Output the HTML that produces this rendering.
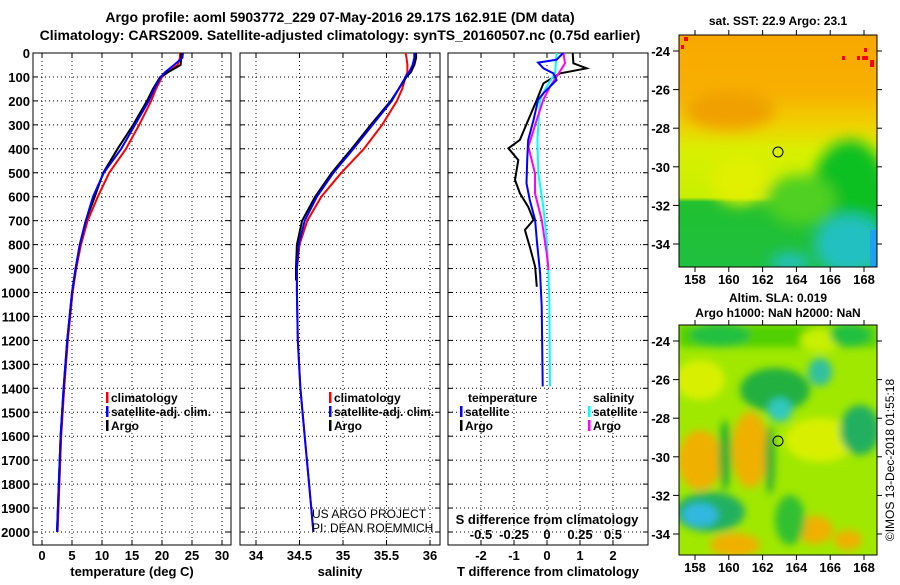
<!DOCTYPE html>
<html><head><meta charset="utf-8"><style>
body{margin:0;background:#fff}
svg text{font-family:"Liberation Sans",sans-serif;font-weight:bold;fill:#000}
</style></head><body>
<svg id="s" width="900" height="580" xmlns="http://www.w3.org/2000/svg">
<defs>
<filter id="bl" x="-20%" y="-20%" width="140%" height="140%"><feGaussianBlur stdDeviation="7"/></filter>
<filter id="bl2" x="-20%" y="-20%" width="140%" height="140%"><feGaussianBlur stdDeviation="4"/></filter>
<clipPath id="c1"><rect x="679" y="35" width="198" height="232"/></clipPath>
<clipPath id="c2"><rect x="679" y="325" width="198" height="230"/></clipPath>
<linearGradient id="g1" x1="0" y1="0" x2="0" y2="1">
<stop offset="0" stop-color="#f8a800"/><stop offset="0.25" stop-color="#f8b000"/><stop offset="0.38" stop-color="#f0d000"/><stop offset="0.5" stop-color="#d8f000"/><stop offset="0.7" stop-color="#c8f000"/><stop offset="0.72" stop-color="#20c030"/><stop offset="1" stop-color="#20c040"/></linearGradient>
</defs>
<text x="340" y="22" font-size="14" text-anchor="middle">Argo profile: aoml 5903772_229 07-May-2016 29.17S 162.91E (DM data)</text>
<text x="340" y="40" font-size="14" text-anchor="middle">Climatology: CARS2009. Satellite-adjusted climatology: synTS_20160507.nc (0.75d earlier)</text>
<g id="plots"></g>

<g clip-path="url(#c1)">
<rect x="679" y="35" width="198" height="232" fill="url(#g1)"/>
<g filter="url(#bl)">
<ellipse cx="730" cy="110" rx="45" ry="20" fill="#f0a000"/>
<ellipse cx="850" cy="200" rx="40" ry="60" fill="#10c020"/>
<ellipse cx="800" cy="200" rx="35" ry="25" fill="#50d020"/>
<ellipse cx="850" cy="245" rx="35" ry="30" fill="#20c0c0"/>
<ellipse cx="790" cy="262" rx="20" ry="8" fill="#20c0d0"/>
<ellipse cx="740" cy="180" rx="30" ry="25" fill="#e0f000"/>
</g>
<rect x="870" y="230" width="7" height="37" fill="#20a0f0"/>
<rect x="684" y="37" width="4" height="4" fill="#f00"/><rect x="681" y="45" width="3" height="4" fill="#f00"/>
<rect x="857" y="56" width="3" height="4" fill="#f00"/><rect x="862" y="56" width="6" height="4" fill="#f00"/><rect x="870" y="60" width="4" height="7" fill="#f00"/><rect x="864" y="48" width="3" height="4" fill="#f00"/><rect x="842" y="56" width="3" height="4" fill="#f00"/>
</g>
<rect x="679" y="35" width="198" height="232" fill="none" stroke="#000"/>
<circle cx="778" cy="152" r="5" fill="none" stroke="#000"/>
<text x="778" y="25" font-size="12" text-anchor="middle">sat. SST: 22.9 Argo: 23.1</text>

<g clip-path="url(#c2)">
<rect x="679" y="325" width="198" height="230" fill="#a0e800"/>
<g filter="url(#bl2)">
<rect x="679" y="325" width="198" height="22" fill="#50d000"/>
<ellipse cx="720" cy="335" rx="30" ry="12" fill="#20c040"/>
<ellipse cx="820" cy="340" rx="20" ry="12" fill="#c8f000"/>
<ellipse cx="850" cy="335" rx="20" ry="12" fill="#20c040"/>
<ellipse cx="700" cy="380" rx="25" ry="20" fill="#d8f000"/>
<ellipse cx="775" cy="390" rx="35" ry="22" fill="#20b040"/>
<ellipse cx="780" cy="410" rx="12" ry="12" fill="#30c8c0"/>
<ellipse cx="820" cy="372" rx="12" ry="14" fill="#30c0a0"/>
<ellipse cx="700" cy="460" rx="22" ry="30" fill="#f0b000"/>
<ellipse cx="750" cy="450" rx="18" ry="38" fill="#f0b000"/>
<ellipse cx="725" cy="455" rx="6" ry="35" fill="#20b030"/>
<ellipse cx="770" cy="460" rx="5" ry="35" fill="#30b030"/>
<ellipse cx="820" cy="440" rx="35" ry="22" fill="#d8f000"/>
<ellipse cx="860" cy="430" rx="20" ry="25" fill="#20b060"/>
<ellipse cx="710" cy="512" rx="35" ry="20" fill="#20b060"/>
<ellipse cx="700" cy="515" rx="18" ry="12" fill="#30b8e0"/>
<ellipse cx="735" cy="545" rx="25" ry="12" fill="#f0b000"/>
<ellipse cx="815" cy="530" rx="18" ry="14" fill="#f0b000"/>
<ellipse cx="848" cy="540" rx="14" ry="10" fill="#f0b000"/>
<ellipse cx="790" cy="520" rx="15" ry="25" fill="#30c030"/>
</g>
</g>
<rect x="679" y="325" width="198" height="230" fill="none" stroke="#000"/>
<circle cx="778" cy="441" r="5" fill="none" stroke="#000"/>
<text x="778" y="302" font-size="12" text-anchor="middle">Altim. SLA: 0.019</text>
<text x="778" y="317" font-size="12" text-anchor="middle">Argo h1000: NaN h2000: NaN</text>
<text x="0" y="0" font-size="12" text-anchor="middle" transform="translate(894,460) rotate(-90)" style="font-weight:normal">©IMOS 13-Dec-2018 01:55:18</text>
<text x="312" y="518" font-size="12" style="font-weight:normal">US ARGO PROJECT</text>
<text x="312" y="532" font-size="12" style="font-weight:normal">PI: DEAN ROEMMICH</text>
</svg>
<script>
const depths=[0,20,50,80,100,150,200,300,400,500,600,700,800,900,1000,1200,1400,1600,1800,2000];
const tClim=[23,23,22.6,21,20,19,18.2,16.2,14,11.2,9.3,7.6,6.5,5.7,5.1,4.3,3.7,3.2,2.9,2.6];
const tSat=[23.5,23.4,22,20.5,19.8,18.7,17.8,15.5,13.2,10.3,8.5,7.3,6.3,5.6,5,4.2,3.6,3.1,2.8,2.5];
const tArgo=[23.2,23.2,23.1,21,19.7,18.5,17.5,15.2,12.6,10.2,8.8,7.3,6.3,5.6,5,4.2,3.6,3.1,2.8,2.5];
const sClim=[35.72,35.73,35.74,35.74,35.72,35.68,35.62,35.45,35.24,34.98,34.75,34.59,34.5,34.47,34.47,34.48,34.51,34.56,34.61,34.66];
const sSat=[35.82,35.82,35.8,35.76,35.72,35.64,35.56,35.34,35.12,34.89,34.7,34.56,34.49,34.47,34.47,34.48,34.51,34.56,34.61,34.66];
const sArgoD=[0,20,50,80,100,150,200,300,400,500,600,700,800,900,950];
const sArgo=[35.84,35.84,35.82,35.78,35.73,35.64,35.55,35.32,35.1,34.87,34.68,34.53,34.47,34.46,34.46];
const dTArgoD=[0,43,64,85,127,196,280,363,398,447,530,586,642,697,739,809,892,976];
const dTArgo=[0.78,0.8,1.2,0.39,-0.11,-0.31,-0.57,-0.82,-1.17,-0.87,-0.97,-0.82,-0.57,-0.41,-0.67,-0.52,-0.36,-0.31];
const dTSatD=[0,28,40,64,85,113,168,196,280,363,447,544,614,697,781,920,1058,1392];
const dTSat=[0.49,0.29,-0.27,-0.11,0.19,0.29,-0.11,-0.27,-0.41,-0.57,-0.6,-0.62,-0.52,-0.36,-0.31,-0.21,-0.16,-0.13];
const dSSatD=[0,85,140,196,363,503,642,781,920,1058,1392];
const dSSat=[0.073,0.061,-0.002,-0.053,-0.073,-0.066,-0.028,-0.002,0.011,0.018,0.023];
const dSArgoD=[0,43,99,140,196,280,391,503,586,697,836,906];
const dSArgo=[0.124,0.136,0.073,0.023,-0.028,-0.078,-0.141,-0.091,-0.091,-0.04,-0.002,0.011];
const tTicks=[0,5,10,15,20,25,30];
const sTicks=[34,34.5,35,35.5,36];
const dtTicks=[-2,-1,0,1,2];
const dsTicks=[-0.5,-0.25,0,0.25,0.5];
const dTicks=[0,100,200,300,400,500,600,700,800,900,1000,1100,1200,1300,1400,1500,1600,1700,1800,1900,2000];
const latTicks=[-24,-26,-28,-30,-32,-34];
const lonTicks=[158,160,162,164,166,168];

const NS='http://www.w3.org/2000/svg';
const G=document.getElementById('plots');
const top0=53,bot=545;
const yD=d=>top0+d*0.2395;
const xT=t=>42+t*6, xS=s=>256+(s-34)*87, xDT=v=>547+v*33, xDS=v=>547+v*132;
function el(tag,a,p){const e=document.createElementNS(NS,tag);for(const k in a)e.setAttribute(k,a[k]);(p||G).appendChild(e);return e;}
function txt(x,y,s,anchor,size){const t=el('text',{x:x,y:y,'font-size':size||13,'text-anchor':anchor||'middle'});t.textContent=s;return t;}
const panels=[{x0:33,x1:231,ticks:tTicks,fx:xT,lab:'temperature (deg C)',name:'temperature'},
{x0:240,x1:440,ticks:sTicks,fx:xS,lab:'salinity',name:'salinity'},
{x0:448,x1:648,ticks:dtTicks,fx:xDT,lab:'T difference from climatology',name:'difference'}];
panels.forEach(p=>{
  const g=el('g',{});
  
  
  dTicks.forEach(d=>{el('line',{x1:p.x0,x2:p.x1,y1:yD(d),y2:yD(d),stroke:'#000','stroke-dasharray':'1,3'},g);
    el('line',{x1:p.x0,x2:p.x0+5,y1:yD(d),y2:yD(d),stroke:'#000'},g);el('line',{x1:p.x1-5,x2:p.x1,y1:yD(d),y2:yD(d),stroke:'#000'},g);});
  p.ticks.forEach(t=>{const x=p.fx(t);el('line',{x1:x,x2:x,y1:top0,y2:bot,stroke:'#000','stroke-dasharray':'1,3'},g);
    el('line',{x1:x,x2:x,y1:bot,y2:bot-5,stroke:'#000'},g);el('line',{x1:x,x2:x,y1:top0,y2:top0+5,stroke:'#000'},g);
    const tl=txt(x,560,String(t));});
  el('rect',{x:p.x0,y:top0,width:p.x1-p.x0,height:bot-top0,fill:'none',stroke:'#000'},g);
  const al=txt((p.x0+p.x1)/2,576,p.lab);
  
  
});
dTicks.forEach(d=>{const t=txt(30,yD(d)+5,String(d),'end');
  
  });
dsTicks.forEach(v=>{const t=txt(xDS(v),539,String(v));
  
  });
const sl=txt(547,524,'S difference from climatology');


function line(ds,vs,fx,col,w,name){
  const pts=ds.map((d,i)=>fx(vs[i]).toFixed(1)+','+yD(d).toFixed(1)).join(' ');
  const e=el('polyline',{points:pts,fill:'none',stroke:col,'stroke-width':w});
  
  
}
line(depths,tClim,xT,'#f00',2,'temp-climatology-line');
line(depths,tArgo,xT,'#000',2,'temp-argo-line');
line(depths,tSat,xT,'#00f',2,'temp-satellite-line');
line(depths,sClim,xS,'#f00',2,'sal-climatology-line');
line(sArgoD,sArgo,xS,'#000',2,'sal-argo-line');
line(depths,sSat,xS,'#00f',2,'sal-satellite-line');
line(dTArgoD,dTArgo,xDT,'#000',2,'tdiff-argo-line');
line(dSSatD,dSSat,xDS,'#0ff',2,'sdiff-satellite-line');
line(dSArgoD,dSArgo,xDS,'#f0f',2,'sdiff-argo-line');
line(dTSatD,dTSat,xDT,'#00f',2,'tdiff-satellite-line');
function leg(x,y,col,s,name){
  const r=el('rect',{x:x,y:y-10,width:2.5,height:11,fill:col});
  
  
  const t=txt(x+5,y,s,'start',12);
  
  
}
leg(106,402,'#f00','climatology','legend-temp-climatology');
leg(106,416,'#00f','satellite-adj. clim.','legend-temp-satellite');
leg(106,430,'#000','Argo','legend-temp-argo');
leg(329,402,'#f00','climatology','legend-sal-climatology');
leg(329,416,'#00f','satellite-adj. clim.','legend-sal-satellite');
leg(329,430,'#000','Argo','legend-sal-argo');
const lt=txt(468,402,'temperature','start',12);
const ls=txt(593,402,'salinity','start',12);
leg(460,416,'#00f','satellite','legend-tdiff-satellite');
leg(460,430,'#000','Argo','legend-tdiff-argo');
leg(588,416,'#0ff','satellite','legend-sdiff-satellite');
leg(588,430,'#f0f','Argo','legend-sdiff-argo');
[[35,267,51,19.3],[325,555,341,19.3]].forEach((m,mi)=>{
  latTicks.forEach(v=>{const y=m[2]+(-24-v)*m[3];
    el('line',{x1:673,x2:679,y1:y,y2:y,stroke:'#000'});el('line',{x1:877,x2:882,y1:y,y2:y,stroke:'#000'});
    const t=txt(670,y+5,String(v),'end');
    
    });
  lonTicks.forEach(v=>{const x=695+(v-158)*16.9;
    el('line',{x1:x,x2:x,y1:m[1],y2:m[1]+5,stroke:'#000'});el('line',{x1:x,x2:x,y1:m[0]-5,y2:m[0],stroke:'#000'});
    const t=txt(x,m[1]+17,String(v));
    
    });
});
</script>
</body></html>
